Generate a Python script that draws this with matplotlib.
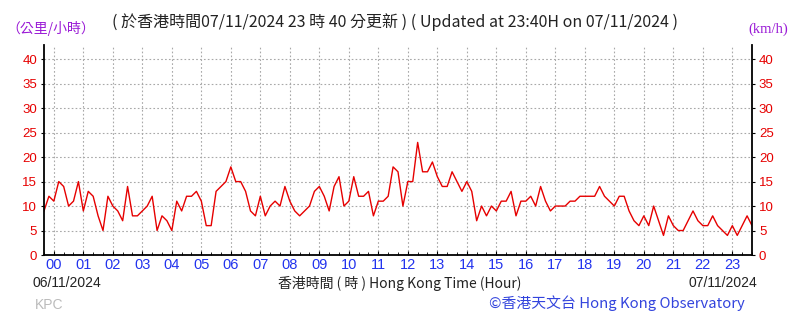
import matplotlib
matplotlib.use('Agg')
import matplotlib.pyplot as plt
from matplotlib.ticker import MultipleLocator
import numpy as np
import pandas as pd

# 10-minute mean wind speed (km/h), from 06/11/2024 23:40 to 07/11/2024 23:40
start_time = '2024-11-06 23:40'
end_time = '2024-11-07 23:40'
speed = [
    9, 12, 11, 15, 14, 10, 11, 15, 9, 13, 12, 8, 5, 12, 10, 9, 7, 14, 8, 8,
    9, 10, 12, 5, 8, 7, 5, 11, 9, 12, 12, 13, 11, 6, 6, 13, 14, 15, 18, 15,
    15, 13, 9, 8, 12, 8, 10, 11, 10, 14, 11, 9, 8, 9, 10, 13, 14, 12, 9, 14,
    16, 10, 11, 16, 12, 12, 13, 8, 11, 11, 12, 18, 17, 10, 15, 15, 23, 17, 17, 19,
    16, 14, 14, 17, 15, 13, 15, 13, 7, 10, 8, 10, 9, 11, 11, 13, 8, 11, 11, 12,
    10, 14, 11, 9, 10, 10, 10, 11, 11, 12, 12, 12, 12, 14, 12, 11, 10, 12, 12, 9,
    7, 6, 8, 6, 10, 7, 4, 8, 6, 5, 5, 7, 9, 7, 6, 6, 8, 6, 5, 4,
    6, 4, 6, 8, 6,
]
hour_labels = ['%02d' % h for h in range(24)]
y_ticks = list(range(0, 45, 5))

times = pd.date_range(start_time, end_time, freq='10min')
hours = (times - pd.Timestamp('2024-11-07')).total_seconds() / 3600.0

cjk = ['Noto Sans CJK TC', 'DejaVu Sans']
W, H = 803, 317
fig = plt.figure(figsize=(W / 100, H / 100), dpi=100)
ax = fig.add_axes([44 / W, 1 - 255 / H, (752 - 44) / W, (255 - 45) / H])

ax.plot(hours, speed, color='#e60000', linewidth=1.0)

ax.set_xlim(-1 / 3, 23 + 2 / 3)
ax.set_ylim(0, 42.9)
ax.set_xticks(range(24))
ax.set_xticklabels(hour_labels)
ax.xaxis.set_minor_locator(MultipleLocator(1 / 3))
ax.set_yticks(y_ticks)
ax.set_yticklabels([str(v) for v in y_ticks])

ax.grid(True, color='#a8a8a8', linestyle=(0, (1.5, 2)), linewidth=0.8)
ax.set_axisbelow(True)

for side in ['left', 'right', 'bottom']:
    ax.spines[side].set_linewidth(1.3)
    ax.spines[side].set_color('black')
ax.spines['top'].set_visible(False)

ax.tick_params(axis='x', which='major', direction='in', length=3, pad=2,
               labelsize=10.5, labelcolor='#2233ee')
ax.tick_params(axis='x', which='minor', direction='in', length=2)
ax.tick_params(axis='y', direction='out', length=2, pad=3, labelsize=9.5,
               labelcolor='#e60000', right=True, labelright=True)
for lab in ax.get_xticklabels() + ax.get_yticklabels():
    lab.set_family('Liberation Sans')

# header texts
fig.text(6 / W, 1 - 28 / H, '（公里/小時）', color='#9a1ad6', fontsize=10,
         family=cjk, ha='left', va='center')
fig.text(395 / W, 1 - 22 / H,
         '( 於香港時間07/11/2024 23 時 40 分更新 ) ( Updated at 23:40H on 07/11/2024 )',
         color='#222222', fontsize=11.5, family=cjk, ha='center', va='center')
fig.text(788 / W, 1 - 29 / H, '(km/h)', color='#9a1ad6', fontsize=10.5,
         family='Liberation Serif', ha='right', va='center')

# footer texts
fig.text(33 / W, 1 - 283 / H, '06/11/2024', color='#222222', fontsize=10,
         family='Liberation Sans', ha='left', va='center')
fig.text(400 / W, 1 - 283 / H, '香港時間 ( 時 ) Hong Kong Time (Hour)',
         color='#222222', fontsize=10, family=cjk, ha='center', va='center')
fig.text(757 / W, 1 - 283 / H, '07/11/2024', color='#222222', fontsize=10,
         family='Liberation Sans', ha='right', va='center')
fig.text(745 / W, 1 - 303 / H, '©香港天文台 Hong Kong Observatory',
         color='#3344dd', fontsize=10.7, family=cjk, ha='right', va='center')
fig.text(35 / W, 1 - 305 / H, 'KPC', color='#bbbbbb', fontsize=10,
         family='Liberation Sans', ha='left', va='center')

fig.savefig('out.png', dpi=100)
